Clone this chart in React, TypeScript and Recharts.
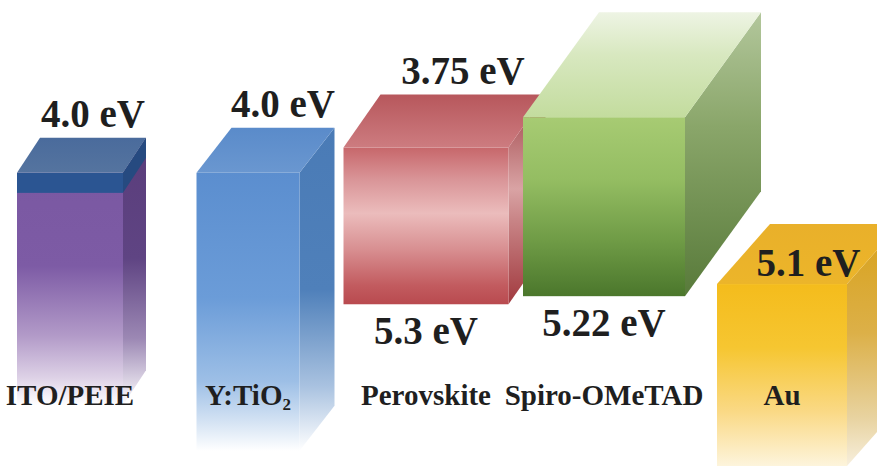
import { Bar, BarChart, LabelList, XAxis, YAxis } from "recharts";

// Layers of the device stack, left to right
const CATEGORIES = ["ITO/PEIE", "Y:TiO2", "Perovskite", "Spiro-OMeTAD", "Au"];
// Upper and lower band edges (eV below vacuum); open-ended layers fade out at the bottom
const UPPER_EV = [4.0, 4.0, 3.75, 3.45, 5.1];
const LOWER_EV = [6.3, 6.75, 5.3, 5.22, 6.9];
// Which edges carry a value label
const UPPER_LABELLED = [true, true, true, false, true];
const LOWER_LABELLED = [false, false, true, true, false];

const EV_DOMAIN: [number, number] = [2.29, 6.9];

type Stops = [number, string][];
type BoxStyle = {
  width: number;
  depthX: number;
  depthY: number;
  front: Stops;
  side: Stops;
  top: Stops;
  band?: { height: number; front: string; side: string };
  labelOnFace?: boolean;
};

const BOX_STYLES: Record<string, BoxStyle> = {
  "ITO/PEIE": {
    width: 106,
    depthX: 23,
    depthY: -35,
    front: [[0, "#7a58a2"], [0.4, "#7d5ba5"], [0.7, "#b29ac8"], [0.88, "#ddd1e6"], [1, "#ffffff"]],
    side: [[0, "#5a3d7b"], [0.45, "#5f4483"], [0.75, "#9c88b4"], [1, "#ffffff"]],
    top: [[0, "#55749f"], [1, "#4a6b9c"]],
    band: { height: 20, front: "#2b5592", side: "#264a80" },
  },
  "Y:TiO2": {
    width: 103,
    depthX: 35,
    depthY: -45,
    front: [[0, "#5b8ecf"], [0.45, "#6b9cd8"], [0.75, "#9dbfe6"], [0.9, "#d6e4f4"], [1, "#ffffff"]],
    side: [[0, "#4a7bb6"], [0.5, "#4f80ba"], [0.8, "#a9c2e0"], [1, "#ffffff"]],
    top: [[0, "#6a97d0"], [1, "#5a8bca"]],
  },
  Perovskite: {
    width: 165,
    depthX: 37,
    depthY: -53,
    front: [[0, "#c7676b"], [0.2, "#d99497"], [0.42, "#ebbcbc"], [0.65, "#d88f91"], [0.88, "#c25b5f"], [1, "#b94a4f"]],
    side: [[0, "#9e4246"], [0.45, "#d9a3a4"], [0.6, "#c88486"], [1, "#a1393e"]],
    top: [[0, "#cd7c80"], [1, "#b7575c"]],
  },
  "Spiro-OMeTAD": {
    width: 162,
    depthX: 76,
    depthY: -105,
    front: [[0, "#a7cb73"], [0.35, "#94bd62"], [0.7, "#6e9a45"], [1, "#4b772c"]],
    side: [[0, "#b3c79c"], [0.4, "#8aa66a"], [1, "#587a3a"]],
    top: [[0, "#c3dc9e"], [0.6, "#d8e8c0"], [1, "#eef4e4"]],
  },
  Au: {
    width: 130,
    depthX: 53,
    depthY: -60,
    front: [[0, "#f4bc1c"], [0.35, "#f6c631"], [0.7, "#fad985"], [1, "#fdf4dc"]],
    side: [[0, "#d8a11a"], [0.45, "#dcb048"], [0.8, "#e8d3a0"], [1, "#f7efdd"]],
    top: [[0, "#ecb52a"], [1, "#e9b02a"]],
    labelOnFace: true,
  },
};

const FONT = '"Liberation Serif", "Times New Roman", serif';
const TEXT_COLOR = "#1f1f1f";

const rows = CATEGORIES.map((name, i) => ({
  name,
  level: [UPPER_EV[i], LOWER_EV[i]],
}));

function formatEv(v: number) {
  const s = Number(v.toFixed(1)) === v ? v.toFixed(1) : String(v);
  return `${s} eV`;
}

function gradient(id: string, stops: Stops, vertical: "down" | "up") {
  return (
    <linearGradient id={id} x1="0" y1={vertical === "down" ? 0 : 1} x2="0" y2={vertical === "down" ? 1 : 0}>
      {stops.map(([o, c]) => (
        <stop key={o} offset={o} stopColor={c} />
      ))}
    </linearGradient>
  );
}

function boxGeometry(props: any) {
  const { x, y, width, height } = props;
  const cx = x + width / 2;
  const top = Math.min(y, y + height);
  const bottom = Math.max(y, y + height);
  return { cx, top, bottom };
}

function Box3D(props: any) {
  const name: string = props.payload?.name ?? CATEGORIES[props.index];
  const s = BOX_STYLES[name];
  const i = CATEGORIES.indexOf(name);
  const { cx, top, bottom } = boxGeometry(props);
  const left = cx - s.width / 2;
  const right = cx + s.width / 2;
  const dx = s.depthX;
  const dy = s.depthY;
  const id = `box${i}`;

  return (
    <g>
      <defs>
        {gradient(`${id}-front`, s.front, "down")}
        {gradient(`${id}-side`, s.side, "down")}
        {gradient(`${id}-top`, s.top, "up")}
      </defs>
      <polygon
        points={`${right},${top} ${right + dx},${top + dy} ${right + dx},${bottom + dy} ${right},${bottom}`}
        fill={`url(#${id}-side)`}
      />
      <polygon
        points={`${left},${top} ${left + dx},${top + dy} ${right + dx},${top + dy} ${right},${top}`}
        fill={`url(#${id}-top)`}
      />
      <rect x={left} y={top} width={s.width} height={bottom - top} fill={`url(#${id}-front)`} />
      {s.band && (
        <>
          <rect x={left} y={top} width={s.width} height={s.band.height} fill={s.band.front} />
          <polygon
            points={`${right},${top} ${right + dx},${top + dy} ${right + dx},${top + dy + s.band.height} ${right},${top + s.band.height}`}
            fill={s.band.side}
          />
        </>
      )}
    </g>
  );
}

function LevelLabels(props: any) {
  const name: string = props.value;
  const i = CATEGORIES.indexOf(name);
  if (i < 0) return null;
  const s = BOX_STYLES[name];
  const { cx, top, bottom } = boxGeometry(props);
  const common = {
    textAnchor: "middle" as const,
    fontFamily: FONT,
    fontWeight: 700,
    fontSize: 39,
    fill: TEXT_COLOR,
  };
  return (
    <g>
      {UPPER_LABELLED[i] && (
        <text
          {...common}
          x={s.labelOnFace ? cx + s.depthX / 2 : cx + s.depthX}
          y={s.labelOnFace ? top - 8 : top + s.depthY - 11}
        >
          {formatEv(UPPER_EV[i])}
        </text>
      )}
      {LOWER_LABELLED[i] && (
        <text {...common} x={cx} y={bottom + 40}>
          {formatEv(LOWER_EV[i])}
        </text>
      )}
    </g>
  );
}

function CategoryTick(props: any) {
  const { x, y, payload } = props;
  const name: string = String(payload?.value ?? "");
  // trailing digits in a formula are set as a subscript
  const m = name.match(/^(.*?[A-Za-z])(\d+)$/);
  return (
    <text
      x={x}
      y={y - 61}
      textAnchor="middle"
      fontFamily={FONT}
      fontWeight={700}
      fontSize={29}
      fill={TEXT_COLOR}
    >
      {m ? (
        <>
          <tspan>{m[1]}</tspan>
          <tspan fontSize={17} dy={5}>
            {m[2]}
          </tspan>
        </>
      ) : (
        name
      )}
    </text>
  );
}

export default function App() {
  return (
    <div
      style={{
        position: "absolute",
        left: 0,
        top: 0,
        width: 877,
        height: 467,
        overflow: "hidden",
        background: "#ffffff",
      }}
    >
      <BarChart
        width={896}
        height={467}
        data={rows}
        margin={{ top: 0, right: 6, bottom: 0, left: 0 }}
        barCategoryGap={0}
        style={{ marginLeft: -19 }}
      >
        <YAxis type="number" domain={EV_DOMAIN} reversed hide allowDataOverflow width={0} />
        <Bar dataKey="level" barSize={100} shape={(p: any) => <Box3D {...p} />} isAnimationActive={false}>
          <LabelList dataKey="name" content={(p: any) => <LevelLabels {...p} />} />
        </Bar>
        <XAxis
          dataKey="name"
          height={1}
          axisLine={false}
          tickLine={false}
          tickSize={0}
          tickMargin={0}
          interval={0}
          tick={(p: any) => <CategoryTick {...p} />}
        />
      </BarChart>
    </div>
  );
}
